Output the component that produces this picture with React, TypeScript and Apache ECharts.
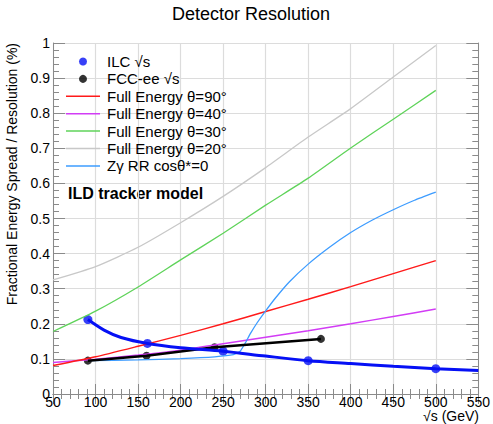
import React, { useEffect, useRef } from "react";
import * as echarts from "echarts";

// ---- data ----
const ilcX = [91, 161, 250, 350, 500];
const ilcY = [0.212, 0.144, 0.122, 0.095, 0.072];
const ilcCurveX = [91, 110, 130, 161, 200, 250, 300, 350, 400, 450, 500, 550];
const ilcCurveY = [0.212, 0.182, 0.161, 0.144, 0.132, 0.122, 0.108, 0.095, 0.087, 0.079, 0.072, 0.067];

const fccX = [91, 160, 240, 365];
const fccY = [0.095, 0.109, 0.133, 0.157];

const energyX = [50, 100, 150, 200, 250, 300, 350, 400, 450, 500];
const theta90 = [0.081, 0.106, 0.136, 0.167, 0.2, 0.235, 0.27, 0.306, 0.343, 0.38];
const theta40 = [0.09, 0.099, 0.111, 0.125, 0.143, 0.162, 0.18, 0.2, 0.221, 0.242];
const theta30 = [0.178, 0.236, 0.305, 0.382, 0.458, 0.538, 0.615, 0.701, 0.783, 0.865];
const theta20 = [0.325, 0.363, 0.418, 0.488, 0.563, 0.645, 0.732, 0.813, 0.903, 0.993];

const zgX = [91, 150, 200, 240, 262, 270, 276, 282, 290, 300, 312, 328, 350, 375, 400, 425, 450, 475, 500];
const zgY = [0.095, 0.097, 0.101, 0.106, 0.112, 0.122, 0.145, 0.172, 0.203, 0.237, 0.275, 0.32, 0.37, 0.418, 0.46, 0.495, 0.525, 0.552, 0.575];

const xMin = 50, xMax = 550, xStep = 50;
const yMin = 0, yMax = 1, yStep = 0.1;

const names = {
  ilc: "ILC \u221As",
  fcc: "FCC-ee \u221As",
  t90: "Full Energy \u03B8=90\u00B0",
  t40: "Full Energy \u03B8=40\u00B0",
  t30: "Full Energy \u03B8=30\u00B0",
  t20: "Full Energy \u03B8=20\u00B0",
  zg: "Z\u03B3 RR cos\u03B8*=0",
};

const zip = (xs: number[], ys: number[]) => xs.map((x, i) => [x, ys[i]]);

const FONT = '"Liberation Sans", Arial, Helvetica, sans-serif';
const FRAME = "#8a8a8a";
const LINE_ICON = "path://M0,0H34V1.5H0Z";
const ILC_BLUE = "#0510f5";

export default function App() {
  const ref = useRef<HTMLDivElement>(null);
  useEffect(() => {
    document.body.style.margin = "0";
    const chart = echarts.init(ref.current!, null, { renderer: "svg" });
    const lineSeries = (name: string, xs: number[], ys: number[], color: string, width: number, smooth: number = 0.2) => ({
      name,
      type: "line",
      data: zip(xs, ys),
      symbol: "none",
      smooth,
      lineStyle: { color, width },
      itemStyle: { color },
      silent: true,
    });
    const baseX = { type: "value", min: xMin, max: xMax, interval: xStep };
    const baseY = { type: "value", min: yMin, max: yMax, interval: yStep };
    const frameAxis = (tickLen: number, minorLen: number) => ({
      axisLine: { show: true, lineStyle: { color: FRAME, width: 1 } },
      axisTick: { show: true, inside: true, length: tickLen, lineStyle: { color: FRAME } },
      minorTick: { show: true, splitNumber: 5, length: minorLen, lineStyle: { color: FRAME } },
    });
    chart.setOption({
      animation: false,
      backgroundColor: "#fff",
      textStyle: { fontFamily: FONT },
      title: {
        text: "Detector Resolution",
        left: 167,
        top: 0,
        textStyle: { fontSize: 18, fontWeight: "normal", color: "#000", fontFamily: FONT },
      },
      grid: { left: 53, right: 14, top: 43, bottom: 30, containLabel: false },
      legend: {
        orient: "vertical",
        left: 66,
        top: 53,
        padding: 0,
        itemWidth: 34,
        itemHeight: 8,
        itemGap: 0.4,
        selectedMode: false,
        itemStyle: { borderWidth: 0 },
        textStyle: { fontSize: 15, color: "#000", fontFamily: FONT, lineHeight: 17, padding: [0, 0, 0, 2] },
        data: [
          { name: names.ilc, icon: "circle" },
          { name: names.fcc, icon: "circle" },
          { name: names.t90, icon: LINE_ICON },
          { name: names.t40, icon: LINE_ICON },
          { name: names.t30, icon: LINE_ICON },
          { name: names.t20, icon: LINE_ICON },
          { name: names.zg, icon: LINE_ICON },
        ],
      },
      xAxis: [
        {
          ...baseX,
          position: "bottom",
          ...frameAxis(10, 5),
          splitLine: { show: true, lineStyle: { color: "#dcdcdc", width: 1.2 } },
          axisLabel: { fontSize: 14, color: "#000", margin: 1, fontFamily: FONT },
        },
        {
          ...baseX,
          position: "top",
          ...frameAxis(10, 5),
          splitLine: { show: false },
          axisLabel: { show: false },
        },
      ],
      yAxis: [
        {
          ...baseY,
          position: "left",
          ...frameAxis(12, 6),
          splitLine: { show: true, lineStyle: { color: "#dcdcdc", width: 1.2 } },
          axisLabel: { fontSize: 14, color: "#000", margin: 3, fontFamily: FONT },
        },
        {
          ...baseY,
          position: "right",
          ...frameAxis(12, 6),
          splitLine: { show: false },
          axisLabel: { show: false },
        },
      ],
      series: [
        lineSeries(names.t20, energyX, theta20, "#c8c8c8", 1.3),
        lineSeries(names.t30, energyX, theta30, "#5fd35a", 1.3),
        lineSeries(names.t40, energyX, theta40, "#d23cf5", 1.5),
        lineSeries(names.t90, energyX, theta90, "#ff1a1a", 1.5),
        lineSeries(names.zg, zgX, zgY, "#3d9cff", 1.3, 0.15),
        {
          name: "fccLine",
          type: "line",
          data: zip(fccX, fccY),
          symbol: "none",
          lineStyle: { color: "#000", width: 2.5 },
          silent: true,
        },
        {
          name: names.fcc,
          type: "scatter",
          data: zip(fccX, fccY),
          symbol: "circle",
          symbolSize: 8,
          itemStyle: { color: "#000" },
          silent: true,
        },
        {
          name: "ilcLine",
          type: "line",
          data: zip(ilcCurveX, ilcCurveY),
          symbol: "none",
          smooth: 0.3,
          lineStyle: { color: ILC_BLUE, width: 3 },
          silent: true,
        },
        {
          name: names.ilc,
          type: "scatter",
          data: zip(ilcX, ilcY),
          symbol: "circle",
          symbolSize: 9,
          itemStyle: { color: ILC_BLUE },
          silent: true,
        },
      ],
      graphic: [
        {
          type: "text",
          x: 12,
          y: 43,
          rotation: Math.PI / 2,
          style: {
            text: "Fractional Energy Spread / Resolution (%)",
            fontSize: 14,
            fontFamily: FONT,
            fill: "#000",
            align: "right",
            verticalAlign: "middle",
            textAlign: "right",
            textVerticalAlign: "middle",
          },
        },
        {
          type: "text",
          x: 479,
          y: 416,
          style: {
            text: "\u221As (GeV)",
            fontSize: 14,
            fontFamily: FONT,
            fill: "#000",
            align: "right",
            verticalAlign: "middle",
            textAlign: "right",
            textVerticalAlign: "middle",
          },
        },
        {
          type: "text",
          x: 68,
          y: 193,
          style: {
            text: "ILD tracker model",
            fontSize: 16,
            fontWeight: "bold",
            fontFamily: FONT,
            fill: "#000",
            align: "left",
            verticalAlign: "middle",
            textAlign: "left",
            textVerticalAlign: "middle",
          },
        },
      ],
    });
    return () => chart.dispose();
  }, []);
  return <div ref={ref} style={{ width: 493, height: 424 }} />;
}
